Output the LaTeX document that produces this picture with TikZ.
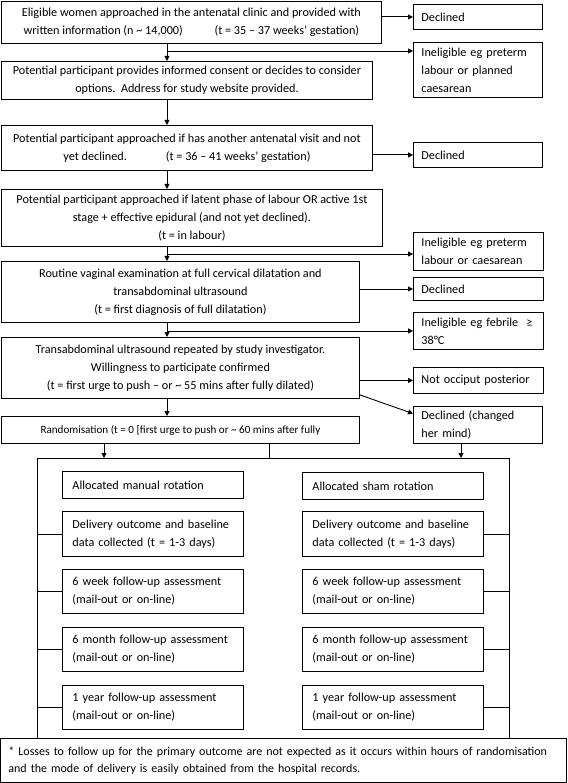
\documentclass[tikz,border=0pt]{standalone}
\usepackage{fontspec}
\setmainfont{Carlito}
\usepackage{tikz}
\usetikzlibrary{arrows.meta, calc}
\tikzset{
    flow/.style={draw=black, line width=0.9pt, inner sep=0pt, anchor=north west, align=center, font=\fontsize{12.2}{18}\selectfont},
    side/.style={flow, align=left, inner xsep=8pt},
    arm/.style={flow, align=left, inner xsep=10pt},
    frame/.style={draw=black, line width=0.9pt, inner sep=0pt, anchor=north west},
    arr/.style={-{Triangle[length=5pt, width=5pt]}, line width=0.9pt},
    conn/.style={-, line width=0.9pt},
}

\begin{document}
\begin{tikzpicture}[x=1pt, y=-1pt]
        \useasboundingbox (0,0) rectangle (567,783);

        % screening column
        \node [flow, minimum width=380pt, minimum height=42pt] (elig) at (1,1)
            {Eligible women approached in the antenatal clinic and provided with\\written information (n \textasciitilde{} 14,000)\hspace{2.6em}(t = 35 – 37 weeks’ gestation)};
        \node [flow, minimum width=371pt, minimum height=38pt] (consent) at (1,61)
            {Potential participant provides informed consent or decides to consider\\options.\ \ Address for study website provided.};
        \node [flow, minimum width=371pt, minimum height=45pt] (visit) at (1,125)
            {Potential participant approached if has another antenatal visit and not\\yet declined.\hspace{3.2em}(t = 36 – 41 weeks’ gestation)};
        \node [flow, minimum width=381pt, minimum height=57pt] (labour) at (1,189)
            {Potential participant approached if latent phase of labour OR active 1st\\stage + effective epidural (and not yet declined).\\(t = in labour)};
        \node [flow, minimum width=358pt, minimum height=61pt] (vagex) at (1,261)
            {Routine vaginal examination at full cervical dilatation and\\transabdominal ultrasound\\(t = first diagnosis of full dilatation)};
        \node [flow, minimum width=358pt, minimum height=61pt] (urge) at (1,337)
            {Transabdominal ultrasound repeated by study investigator.\\Willingness to participate confirmed\\(t = first urge to push – or \textasciitilde{} 55 mins after fully dilated)};
        \node [flow, minimum width=358pt, minimum height=27pt, font=\fontsize{11.1}{18}\selectfont] (rand) at (1,416)
            {Randomisation (t = 0 [first urge to push or \textasciitilde{} 60 mins after fully};

        % exclusions
        \node [side, text width=113pt, minimum height=25pt] (declA) at (413,4) {Declined};
        \node [side, text width=113pt, minimum height=55pt] (inelA) at (413,42) {Ineligible eg preterm\\labour or planned\\caesarean};
        \node [side, text width=113pt, minimum height=25pt] (declB) at (413,142) {Declined};
        \node [side, text width=114pt, minimum height=38pt] (inelB) at (413,232) {Ineligible eg preterm\\labour or caesarean};
        \node [side, text width=114pt, minimum height=23pt] (declC) at (413,277) {Declined};
        \node [side, text width=114pt, minimum height=37pt] (inelC) at (413,312) {Ineligible eg febrile\ \ ≥\\38°C};
        \node [side, text width=114pt, minimum height=26pt] (occ) at (413,367) {Not occiput posterior};
        \node [side, text width=113pt, minimum height=37pt] (declD) at (413,406) {Declined (changed\\her mind)};

        % trial arms
        \node [frame, minimum width=472pt, minimum height=280pt] (arms) at (37,458) {};
        \node [arm, text width=161pt, minimum height=27pt] (manual) at (62,471) {Allocated manual rotation};
        \node [arm, text width=161pt, minimum height=45pt] (delivL) at (62,511) {Delivery outcome and baseline\\data collected (t = 1-3 days)};
        \node [arm, text width=161pt, minimum height=44pt] (wksL) at (62,569) {6 week follow-up assessment\\(mail-out or on-line)};
        \node [arm, text width=161pt, minimum height=44pt] (mthL) at (62,627) {6 month follow-up assessment\\(mail-out or on-line)};
        \node [arm, text width=161pt, minimum height=44pt] (yrL) at (62,685) {1 year follow-up assessment\\(mail-out or on-line)};
        \node [arm, text width=161pt, minimum height=27pt] (sham) at (302,472) {Allocated sham rotation};
        \node [arm, text width=161pt, minimum height=45pt] (delivR) at (302,511) {Delivery outcome and baseline\\data collected (t = 1-3 days)};
        \node [arm, text width=161pt, minimum height=44pt] (wksR) at (302,569) {6 week follow-up assessment\\(mail-out or on-line)};
        \node [arm, text width=161pt, minimum height=44pt] (mthR) at (302,627) {6 month follow-up assessment\\(mail-out or on-line)};
        \node [arm, text width=161pt, minimum height=44pt] (yrR) at (302,685) {1 year follow-up assessment\\(mail-out or on-line)};

        \node [flow, align=left, inner xsep=8pt, text width=550pt, minimum height=44pt, font=\fontsize{12}{17}\selectfont] (note) at (0,738)
            {* Losses to follow up for the primary outcome are not expected as it occurs within hours of randomisation\\and the mode of delivery is easily obtained from the hospital records.};

        \coordinate (spine) at (167,0);
        \coordinate (brA) at (167,51);
        \coordinate (brB) at (167,254);
        \coordinate (armL) at (104,0);
        \coordinate (armM) at (269,0);
        \coordinate (armR) at (461,0);

        \draw[arr] (declA.west -| elig.east) -- (declA.west);
        \draw[arr] (spine |- elig.south) -- (spine |- consent.north);
        \draw[arr] (brA) -- (brA -| inelA.west);
        \draw[arr] (spine |- consent.south) -- (spine |- visit.north);
        \draw[arr] (declB.west -| visit.east) -- (declB.west);
        \draw[arr] (spine |- visit.south) -- (spine |- labour.north);
        \draw[arr] (spine |- labour.south) -- (spine |- vagex.north);
        \draw[arr] (brB) -- (brB -| inelB.west);
        \draw[arr] (declC.west -| vagex.east) -- (declC.west);
        \draw[arr] (spine |- vagex.south) -- (spine |- urge.north);
        \draw[arr] (spine |- inelC.west) -- (inelC.west);
        \draw[arr] (occ.west -| urge.east) -- (occ.west);
        \draw[arr] ($(urge.south east)+(0,-4)$) -- ($(declD.north west)!0.2!(declD.south west)$);
        \draw[arr] (spine |- urge.south) -- (spine |- rand.north);

        \draw[arr] (armL |- rand.south) -- (armL |- arms.north);
        \draw[conn] (armM |- rand.south) -- (armM |- arms.north);
        \draw[arr] (armR |- declD.south) -- (armR |- arms.north);

        \draw[conn] (arms.west |- delivL.west) -- (delivL.west);
        \draw[conn] (arms.west |- wksL.west) -- (wksL.west);
        \draw[conn] (arms.west |- mthL.west) -- (mthL.west);
        \draw[conn] (arms.west |- yrL.west) -- (yrL.west);
        \draw[conn] (delivR.east) -- (arms.east |- delivR.east);
        \draw[conn] (wksR.east) -- (arms.east |- wksR.east);
        \draw[conn] (mthR.east) -- (arms.east |- mthR.east);
        \draw[conn] (yrR.east) -- (arms.east |- yrR.east);
\end{tikzpicture}
\end{document}
